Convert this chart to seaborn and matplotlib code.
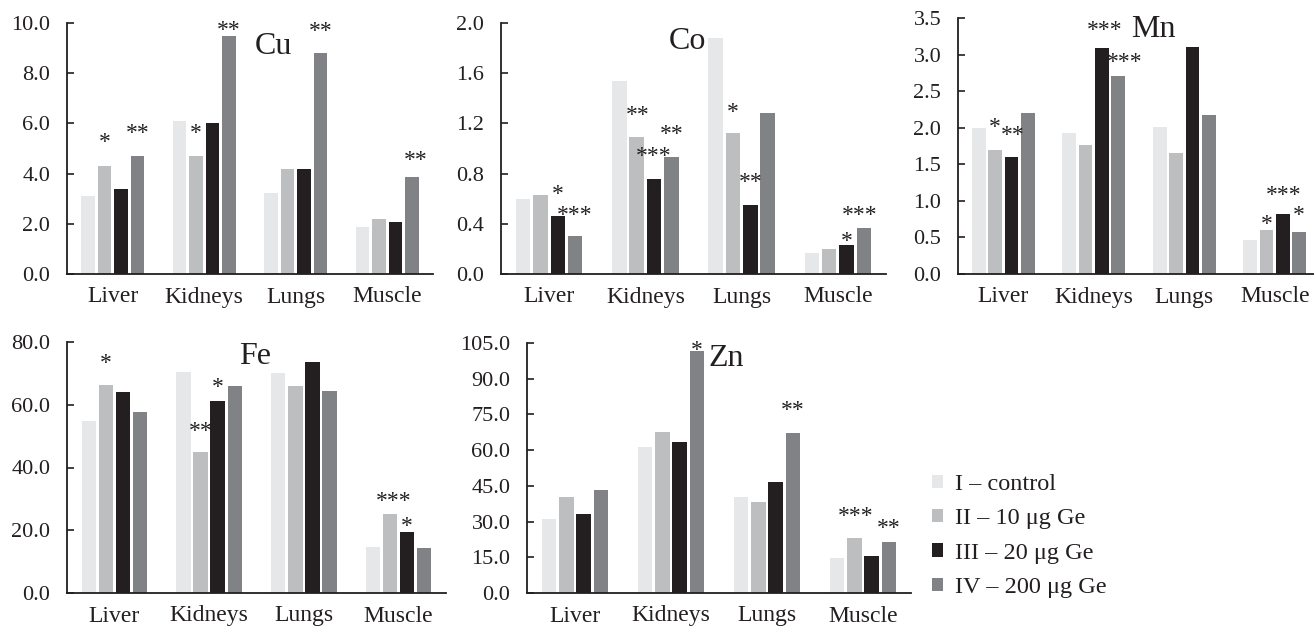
"""
Trace element content in rat organs (Cu, Co, Mn, Fe, Zn) by Ge dose group
"""
import matplotlib
matplotlib.use("Agg")
import matplotlib.pyplot as plt
from matplotlib.patches import Patch
from matplotlib.ticker import FormatStrFormatter
import seaborn as sns
import numpy as np
import pandas as pd

organs = ["Liver", "Kidneys", "Lungs", "Muscle"]
groups = ["I – control", "II – 10 μg Ge", "III – 20 μg Ge", "IV – 200 μg Ge"]
group_colors = ["#e6e7e8", "#bcbec0", "#231f20", "#808285"]

# one row per group (I..IV), columns follow `organs`
cu_values = [
    [3.10, 6.10, 3.22, 1.87],
    [4.30, 4.70, 4.20, 2.20],
    [3.40, 6.00, 4.20, 2.06],
    [4.70, 9.50, 8.82, 3.85],
]
co_values = [
    [0.60, 1.54, 1.88, 0.17],
    [0.63, 1.09, 1.12, 0.20],
    [0.46, 0.76, 0.55, 0.23],
    [0.30, 0.93, 1.28, 0.37],
]
mn_values = [
    [2.00, 1.93, 2.01, 0.47],
    [1.70, 1.76, 1.66, 0.60],
    [1.60, 3.09, 3.11, 0.82],
    [2.20, 2.71, 2.17, 0.58],
]
fe_values = [
    [54.8, 70.4, 70.1, 14.8],
    [66.4, 44.8, 65.9, 25.3],
    [64.0, 61.2, 73.5, 19.5],
    [57.7, 66.0, 64.5, 14.4],
]
zn_values = [
    [31.2, 61.5, 40.4, 14.8],
    [40.2, 67.8, 38.3, 22.9],
    [33.2, 63.6, 46.8, 15.5],
    [43.3, 101.5, 67.1, 21.5],
]

# significance marks: (organ, group index, label, y of the mark, x nudge in px)
cu_stars = [("Liver", 1, "*", 5.48, 0), ("Liver", 3, "**", 5.84, 0),
            ("Kidneys", 1, "*", 5.84, 0), ("Kidneys", 3, "**", 9.97, 0),
            ("Lungs", 3, "**", 9.93, 0), ("Muscle", 3, "**", 4.79, 4)]
co_stars = [("Liver", 2, "*", 0.68, 0), ("Liver", 3, "***", 0.52, 0),
            ("Kidneys", 1, "**", 1.31, 1), ("Kidneys", 2, "***", 0.99, 0),
            ("Kidneys", 3, "**", 1.16, 0), ("Lungs", 1, "*", 1.34, 0),
            ("Lungs", 2, "**", 0.78, 0), ("Muscle", 2, "*", 0.31, 0),
            ("Muscle", 3, "***", 0.52, -4)]
mn_stars = [("Liver", 1, "*", 2.09, 0), ("Liver", 2, "**", 1.98, 1),
            ("Kidneys", 2, "***", 3.41, 3), ("Kidneys", 3, "***", 2.98, 6),
            ("Muscle", 1, "*", 0.76, 0), ("Muscle", 2, "***", 1.16, 1),
            ("Muscle", 3, "*", 0.885, 0)]
fe_stars = [("Liver", 1, "*", 75.2, 0), ("Kidneys", 1, "**", 53.5, 0),
            ("Kidneys", 2, "*", 67.6, 0), ("Muscle", 1, "***", 31.1, 4),
            ("Muscle", 2, "*", 23.2, 0)]
zn_stars = [("Kidneys", 3, "*", 104.7, 0), ("Lungs", 3, "**", 79.2, 0),
            ("Muscle", 1, "***", 34.7, 1), ("Muscle", 3, "**", 29.8, 0)]

INK = "#231f20"

sns.set_theme(style="ticks")
plt.rcParams["font.family"] = ["Liberation Serif", "DejaVu Serif"]

fig = plt.figure(figsize=(13.14, 6.30), dpi=100)
W, H = 1314, 630


def add_panel(box, values, stars, element, ymax, step, label_pos):
    left, right, top, bottom = box
    ax = fig.add_axes([left / W, 1 - bottom / H, (right - left) / W, (bottom - top) / H])

    df = pd.DataFrame({
        "organ": np.tile(organs, len(groups)),
        "group": np.repeat(groups, len(organs)),
        "value": np.concatenate(values),
    })
    sns.barplot(data=df, x="organ", y="value", hue="group", order=organs,
                hue_order=groups, palette=group_colors, width=0.72, gap=0.16,
                linewidth=0, saturation=1, legend=False, ax=ax)

    ax.set_xlim(-0.5, 3.5)
    ax.set_ylim(0, ymax)
    ax.set_yticks(np.arange(0, ymax + step / 2, step))
    ax.yaxis.set_major_formatter(FormatStrFormatter("%.1f"))
    ax.set_xlabel("")
    ax.set_ylabel("")
    sns.despine(ax=ax)
    for side in ("left", "bottom"):
        ax.spines[side].set_linewidth(1.3)
        ax.spines[side].set_color(INK)
    ax.tick_params(axis="y", direction="in", length=5, width=1.2, color=INK,
                   pad=12, labelsize=16, labelcolor=INK)
    ax.tick_params(axis="x", length=0, pad=9, labelsize=17, labelcolor=INK)

    for organ, g, text, y, dx in stars:
        rect = ax.containers[g][organs.index(organ)]
        xc = rect.get_x() + rect.get_width() / 2
        ax.annotate(text, (xc, y), xytext=(dx * 0.72, -8.5),
                    textcoords="offset points", ha="center", va="baseline",
                    fontsize=17, color=INK, annotation_clip=False)

    ax.text(label_pos[0], label_pos[1], element, transform=ax.transAxes,
            ha="center", va="center", fontsize=23, color=INK)
    return ax


# boxes in pixels: left, right, top (ymax), bottom (zero line)
add_panel((67, 433, 23, 274), cu_values, cu_stars, "Cu", 10, 2.0, (0.563, 0.905))
add_panel((501, 886, 23, 274), co_values, co_stars, "Co", 2.0, 0.4, (0.483, 0.925))
add_panel((958, 1320, 18, 274), mn_values, mn_stars, "Mn", 3.5, 0.5, (0.539, 0.955))
add_panel((67, 446, 342, 593), fe_values, fe_stars, "Fe", 80, 20.0, (0.496, 0.942))
add_panel((527, 911, 343, 593), zn_values, zn_stars, "Zn", 105, 15.0, (0.518, 0.938))

handles = [Patch(facecolor=c, edgecolor="none") for c in group_colors]
fig.legend(handles, groups, loc="center left", bbox_to_anchor=(932 / W, 1 - 536 / H),
           frameon=False, fontsize=17.5, handlelength=0.46, handleheight=0.46,
           handletextpad=0.5, labelspacing=0.55, borderpad=0, borderaxespad=0,
           labelcolor=INK)

fig.savefig("out.png", dpi=100)
